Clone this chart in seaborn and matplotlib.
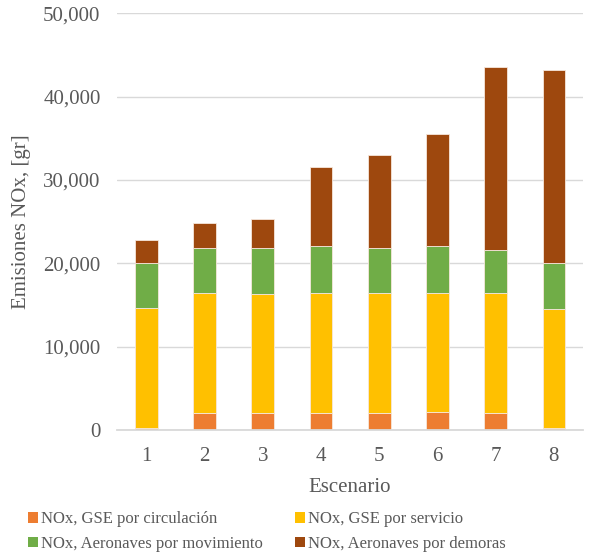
import matplotlib
matplotlib.use("Agg")
import matplotlib.pyplot as plt
from matplotlib.patches import Patch
from matplotlib.ticker import FuncFormatter
import pandas as pd
import seaborn as sns

# Scenario numbers and NOx emissions per source (grams)
escenarios = [1, 2, 3, 4, 5, 6, 7, 8]
gse_circulacion = [250, 2000, 2000, 2000, 2000, 2100, 2000, 250]
gse_servicio = [14350, 14400, 14300, 14400, 14400, 14380, 14400, 14310]
aero_movimiento = [5480, 5480, 5580, 5640, 5480, 5560, 5160, 5520]
aero_demoras = [2760, 2920, 3440, 9480, 11080, 13440, 21960, 23160]

series_names = [
    "NOx, GSE por circulación",
    "NOx, GSE por servicio",
    "NOx, Aeronaves por movimiento",
    "NOx, Aeronaves por demoras",
]
series_values = [gse_circulacion, gse_servicio, aero_movimiento, aero_demoras]
series_colors = ["#ED7D31", "#FFC000", "#70AD47", "#9E480E"]

rows = []
for name, vals in zip(series_names, series_values):
    for esc, v in zip(escenarios, vals):
        rows.append({"Escenario": esc, "Fuente": name, "NOx": v})
df = pd.DataFrame(rows)

sns.set_theme(style="white")
plt.rcParams["font.family"] = ["Liberation Serif", "DejaVu Serif"]

fig = plt.figure(figsize=(6.01, 5.54), dpi=100)
ax = fig.add_axes([0.195, 0.224, 0.775, 0.752])

palette = dict(zip(series_names, series_colors))
# seaborn stacks the first hue level on top, so reverse to put circulación at the bottom
sns.histplot(
    data=df, x="Escenario", weights="NOx", hue="Fuente",
    hue_order=series_names[::-1], palette=palette,
    multiple="stack", discrete=True, shrink=0.39,
    alpha=1, edgecolor="#F6E7DC", linewidth=0.6,
    legend=False, ax=ax,
)

ax.set_xlim(0.5, 8.5)
ax.set_ylim(0, 50000)
ax.set_xticks(escenarios)
ax.set_xticklabels([str(e) for e in escenarios])
ax.set_yticks(range(0, 50001, 10000))
ax.yaxis.set_major_formatter(FuncFormatter(lambda v, p: f"{int(v):,}"))

grid_c = "#D9D9D9"
ax.grid(axis="y", color=grid_c, linewidth=1.0)
ax.set_axisbelow(True)
for s in ["top", "right", "left"]:
    ax.spines[s].set_visible(False)
ax.spines["bottom"].set_color(grid_c)
ax.spines["bottom"].set_linewidth(1.3)

text_c = "#595959"
ax.tick_params(axis="both", length=0, labelsize=15, colors=text_c)
ax.tick_params(axis="y", pad=12)
ax.tick_params(axis="x", pad=12)

ax.set_xlabel("Escenario", fontsize=15, color=text_c)
ax.set_ylabel("Emisiones NOx, [gr]", fontsize=15, color=text_c)
ax.xaxis.set_label_coords(0.5, -0.115)
ax.yaxis.set_label_coords(-0.186, 0.5)

handles = [Patch(facecolor=c, edgecolor="none") for c in series_colors]
order = [0, 2, 1, 3]
fig.legend(
    [handles[i] for i in order], [series_names[i] for i in order],
    ncol=2, loc="upper left", bbox_to_anchor=(0.047, 0.077),
    frameon=False, fontsize=12, labelcolor=text_c,
    handlelength=0.6, handleheight=0.6, handletextpad=0.15,
    columnspacing=1.95, labelspacing=0.5, borderaxespad=0, borderpad=0,
)

fig.savefig("out.png", dpi=100)
